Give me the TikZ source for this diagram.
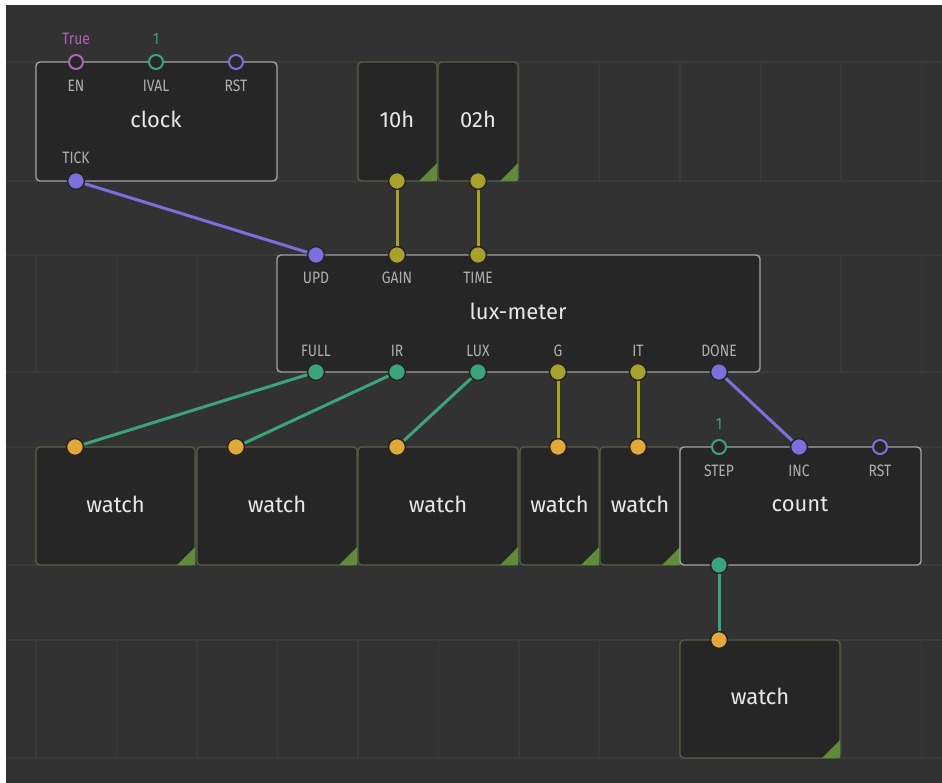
\documentclass[tikz,border=0pt]{standalone}
\usepackage{fontspec}
\setmainfont{Fira Sans}
\newfontfamily\pinfont[FakeStretch=0.84]{Fira Sans}
\definecolor{canvas}{HTML}{323232}
\definecolor{gridln}{HTML}{3A3A3A}
\definecolor{bodyfill}{HTML}{262626}
\definecolor{patchedge}{HTML}{A2A2A2}
\definecolor{watchedge}{HTML}{55603F}
\definecolor{cornergreen}{HTML}{5E8C3A}
\definecolor{pulsec}{HTML}{7C70DC}
\definecolor{numc}{HTML}{3AA57D}
\definecolor{bytec}{HTML}{A9A128}
\definecolor{anyc}{HTML}{E2A93A}
\definecolor{boolc}{HTML}{B063B8}
\definecolor{pinlabel}{HTML}{B0B0B0}
\definecolor{titlec}{HTML}{E8E8E8}
\tikzset{
  patchbox/.style={draw=patchedge, line width=1.4pt, fill=bodyfill, rounded corners=4pt},
  watchbox/.style={draw=watchedge, line width=1.2pt, fill=bodyfill, rounded corners=4pt},
  title/.style={text=titlec, font=\fontsize{22}{24}\selectfont, inner sep=0pt},
  plabel/.style={text=pinlabel, font=\pinfont\fontsize{16.5}{18}\selectfont, inner sep=0pt},
  pinfill/.style={circle, minimum size=17pt, inner sep=0pt, fill=#1, draw=bodyfill, line width=1.6pt},
  pinring/.style={circle, minimum size=14pt, inner sep=0pt, fill=bodyfill, draw=#1, line width=2pt},
  wire/.style={line width=3pt, draw=#1},
}
\begin{document}
\begin{tikzpicture}[x=1pt,y=-1pt]
\useasboundingbox (0,0) rectangle (942,783);
\fill[white] (0,0) rectangle (942,783);
\fill[canvas] (6,5) rectangle (942,783);

% grid bands
\foreach \t/\b in {62/181,255/372,447/565,640/758}{
  \draw[gridln, line width=1.2pt] (6,\t) -- (942,\t);
  \draw[gridln, line width=1.2pt] (6,\b) -- (942,\b);
  \foreach \k in {0,...,11}{
    \draw[gridln, line width=1.2pt] ({36+80.5*\k},\t) -- ({36+80.5*\k},\b);
  }
}

% ---- clock ----
\draw[patchbox] (36,62) rectangle (277,181);
\node[title] (clockT) at (156,119) {clock};
\node[plabel] (lEN) at (76,86) {EN};
\node[plabel] (lIVAL) at (156,86) {IVAL};
\node[plabel] (lRST1) at (236,86) {RST};
\node[plabel] (lTICK) at (76,158) {TICK};
\node[plabel, text=boolc] (vEN) at (76,39) {True};
\node[plabel, text=numc] (vIVAL) at (156,39) {1};

% ---- constant nodes ----
\draw[watchbox] (358,62) rectangle (437,181);
\fill[cornergreen] (437,163) -- (437,181) -- (419,181) -- cycle;
\node[title] (c10h) at (397,119) {10h};
\draw[watchbox] (438,62) rectangle (518,181);
\fill[cornergreen] (518,163) -- (518,181) -- (500,181) -- cycle;
\node[title] (c02h) at (478,119) {02h};

% ---- lux-meter ----
\draw[patchbox] (277,255) rectangle (760,372);
\node[title] (luxT) at (518,311) {lux-meter};
\node[plabel] (lUPD) at (316,278) {UPD};
\node[plabel] (lGAIN) at (397,278) {GAIN};
\node[plabel] (lTIME) at (478,278) {TIME};
\node[plabel] (lFULL) at (316,351) {FULL};
\node[plabel] (lIR) at (397,351) {IR};
\node[plabel] (lLUX) at (478,351) {LUX};
\node[plabel] (lG) at (558,351) {G};
\node[plabel] (lIT) at (638,351) {IT};
\node[plabel] (lDONE) at (719,351) {DONE};

% ---- watch row ----
\foreach \l/\r/\n in {36/195/w1,197/357/w2,358/518/w3,520/599/w4,600/680/w5}{
  \draw[watchbox] (\l,447) rectangle (\r,565);
  \fill[cornergreen] (\r,547) -- (\r,565) -- ({\r-18},565) -- cycle;
  \node[title] (\n T) at ({(\l+\r)/2},504) {watch};
}

% ---- count ----
\draw[patchbox] (680,447) rectangle (921,565);
\node[title] (countT) at (800,504) {count};
\node[plabel] (lSTEP) at (719,471) {STEP};
\node[plabel] (lINC) at (799,471) {INC};
\node[plabel] (lRST2) at (880,471) {RST};
\node[plabel, text=numc] (vSTEP) at (719,424) {1};

% ---- bottom watch ----
\draw[watchbox] (680,640) rectangle (840,758);
\fill[cornergreen] (840,740) -- (840,758) -- (822,758) -- cycle;
\node[title] (w6T) at (760,696) {watch};

% ---- pins ----
\node[pinring=boolc] (pEN) at (76,62) {};
\node[pinring=numc] (pIVAL) at (156,62) {};
\node[pinring=pulsec] (pRST1) at (236,62) {};
\node[pinfill=pulsec] (pTICK) at (76,181) {};
\node[pinfill=bytec] (p10h) at (397,181) {};
\node[pinfill=bytec] (p02h) at (478,181) {};
\node[pinfill=pulsec] (pUPD) at (316,255) {};
\node[pinfill=bytec] (pGAIN) at (397,255) {};
\node[pinfill=bytec] (pTIME) at (478,255) {};
\node[pinfill=numc] (pFULL) at (316,372) {};
\node[pinfill=numc] (pIR) at (397,372) {};
\node[pinfill=numc] (pLUX) at (478,372) {};
\node[pinfill=bytec] (pG) at (558,372) {};
\node[pinfill=bytec] (pIT) at (638,372) {};
\node[pinfill=pulsec] (pDONE) at (719,372) {};
\node[pinfill=anyc] (pW1) at (75,447) {};
\node[pinfill=anyc] (pW2) at (236,447) {};
\node[pinfill=anyc] (pW3) at (397,447) {};
\node[pinfill=anyc] (pW4) at (558,447) {};
\node[pinfill=anyc] (pW5) at (638,447) {};
\node[pinring=numc] (pSTEP) at (719,447) {};
\node[pinfill=pulsec] (pINC) at (799,447) {};
\node[pinring=pulsec] (pRST2) at (880,447) {};
\node[pinfill=numc] (pOUT) at (719,565) {};
\node[pinfill=anyc] (pW6) at (719,640) {};

% ---- links ----
\draw[wire=pulsec] (pTICK) -- (pUPD);
\draw[wire=bytec] (p10h) -- (pGAIN);
\draw[wire=bytec] (p02h) -- (pTIME);
\draw[wire=numc] (pFULL) -- (pW1);
\draw[wire=numc] (pIR) -- (pW2);
\draw[wire=numc] (pLUX) -- (pW3);
\draw[wire=bytec] (pG) -- (pW4);
\draw[wire=bytec] (pIT) -- (pW5);
\draw[wire=pulsec] (pDONE) -- (pINC);
\draw[wire=numc] (pOUT) -- (pW6);
\end{tikzpicture}
\end{document}
